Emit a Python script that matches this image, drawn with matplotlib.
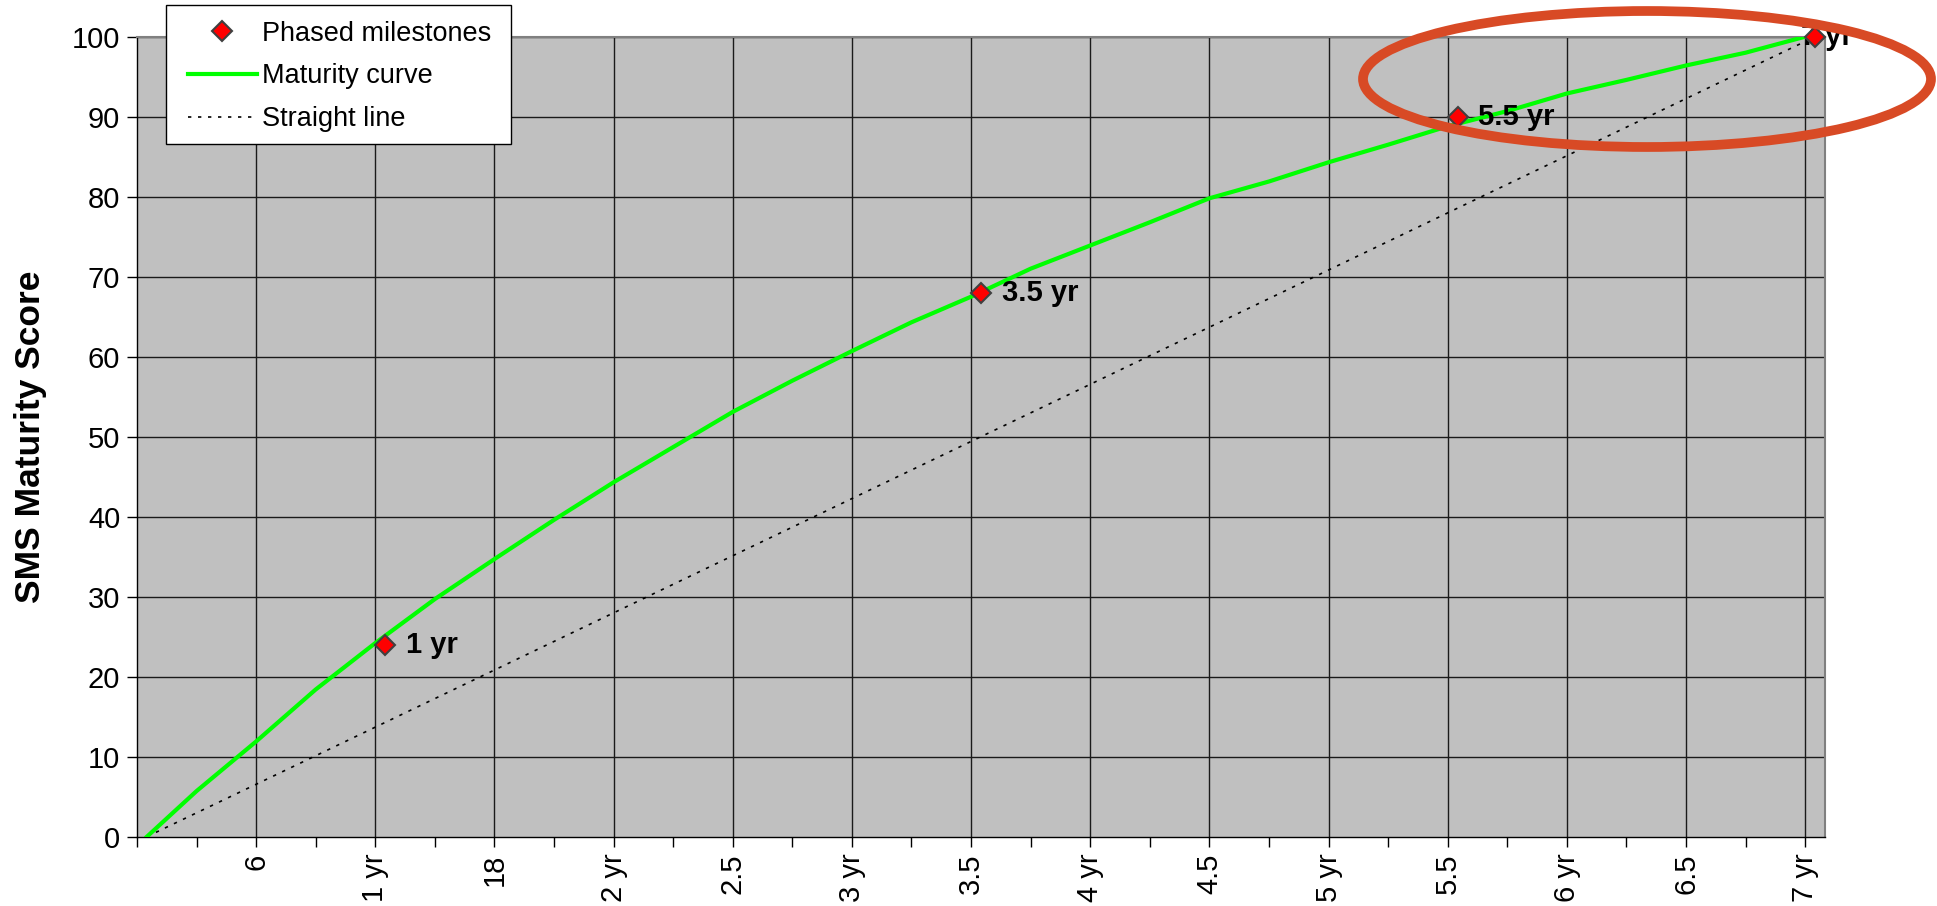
import matplotlib
matplotlib.use('Agg')
import matplotlib.pyplot as plt
import matplotlib.transforms as mtransforms
from matplotlib.patches import Ellipse, Rectangle

plt.rcParams['font.family'] = ['Liberation Sans', 'DejaVu Sans']

# maturity curve (months, score)
curve_months = [0.5, 3, 6, 9, 12, 15, 18, 21, 24, 27, 30, 33, 36, 39, 42,
                45, 48, 51, 54, 57, 60, 63, 66, 69, 72, 75, 78, 81, 84]
curve_scores = [0, 5.7, 11.9, 18.4, 24.2, 29.7, 34.7, 39.6, 44.3, 48.7, 53.1, 57.0, 60.7, 64.3, 67.5,
                71.0, 73.9, 76.8, 79.8, 81.9, 84.3, 86.5, 88.8, 90.7, 92.9, 94.6, 96.4, 98.0, 100]

# phased milestones
milestone_months = [12, 42, 66, 84]
milestone_scores = [24, 68, 90, 100]
milestone_labels = ['1 yr', '3.5 yr', '5.5 yr', '7 yr']

# straight line reference
straight_months = [0, 84]
straight_scores = [0, 100]

tick_months = list(range(6, 85, 6))
tick_labels = ['6', '1 yr', '18', '2 yr', '2.5', '3 yr', '3.5', '4 yr',
               '4.5', '5 yr', '5.5', '6 yr', '6.5', '7 yr']

cat_offset = 0.5  # excel category centering

W, H = 1937, 906
fig = plt.figure(figsize=(W / 100, H / 100), dpi=100)
ax = fig.add_axes([0.0707, 0.0765, 0.8715, 0.883])
ax.set_facecolor('#C0C0C0')

ax.plot([m + cat_offset for m in milestone_months], milestone_scores, linestyle='none',
        marker='D', ms=10, mfc='#FF0000', mec='#404040', mew=1.5, zorder=5,
        label='Phased milestones', clip_on=False)
ax.plot(curve_months, curve_scores, color='#00FF00', lw=3, zorder=4, label='Maturity curve')
ax.plot([m + cat_offset for m in straight_months], straight_scores, color='black', lw=1.2,
        linestyle=(0, (2, 4)), zorder=3, label='Straight line')

# labels beside the milestones, the last one tucked under its marker
for i in range(len(milestone_labels)):
    dx = 15 if i < len(milestone_labels) - 1 else -10
    trans = mtransforms.offset_copy(ax.transData, fig=fig, x=dx, y=0, units='points')
    ax.text(milestone_months[i] + cat_offset, milestone_scores[i], milestone_labels[i],
            transform=trans, ha='left', va='center', fontsize=21, fontweight='bold',
            zorder=4.5, clip_on=False)

ax.set_xlim(0, 85)
ax.set_ylim(0, 100)
ax.set_xticks(range(0, 85, 3))
ax.set_xticklabels(['' if m not in tick_months else tick_labels[tick_months.index(m)]
                    for m in range(0, 85, 3)], rotation=90)
ax.set_yticks(range(0, 101, 10))
ax.tick_params(axis='both', direction='out', length=7, width=1, labelsize=21, pad=5)

for m in tick_months:
    ax.axvline(m, color='#1a1a1a', lw=1.0, zorder=1)
for v in range(10, 101, 10):
    ax.axhline(v, color='#1a1a1a', lw=1.0, zorder=1)

for s in ['top', 'right']:
    ax.spines[s].set_color('#808080')
    ax.spines[s].set_linewidth(1.5)
for s in ['left', 'bottom']:
    ax.spines[s].set_color('black')
    ax.spines[s].set_linewidth(1.0)

ax.set_ylabel('SMS Maturity Score', fontsize=25.5, fontweight='bold')
ax.yaxis.set_label_coords(-0.0535, 0.5)

# legend box drawn by hand so the left padding matches
box = Rectangle((166 / W, 1 - 144 / H), (511 - 166) / W, (144 - 5) / H, transform=fig.transFigure,
                facecolor='white', edgecolor='black', lw=1.0, zorder=9)
fig.patches.append(box)
leg = fig.legend(loc='upper left', bbox_to_anchor=(174 / W, 1 - 7 / H), fontsize=19.5,
                 frameon=False, handlelength=2.55, handletextpad=0.2, labelspacing=0.62,
                 borderpad=0.5, borderaxespad=0)
leg.set_zorder(10)

# red highlight ellipse
ell = Ellipse((1647 / W, 1 - 79 / H), 568 / W, 136 / H, angle=0,
              transform=fig.transFigure, fill=False, edgecolor='#D84A25', lw=7, zorder=20)
fig.patches.append(ell)

fig.savefig('out.png', dpi=100)
